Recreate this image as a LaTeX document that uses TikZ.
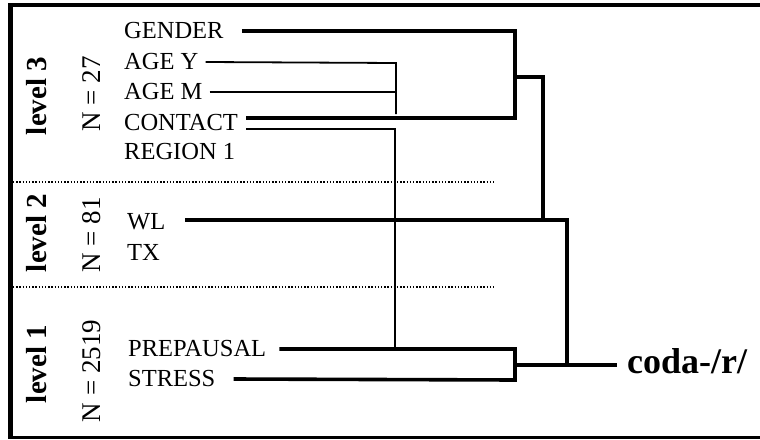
\documentclass[tikz,border=0pt]{standalone}
\usepackage{fontspec}
\setmainfont{Liberation Serif}
\usetikzlibrary{positioning, calc}

\begin{document}
\begin{tikzpicture}[x=1pt, y=-1pt,
    var/.style={anchor=west, inner sep=0pt, font=\fontsize{24.5}{26}\selectfont},
    lvl/.style={rotate=90, inner sep=0pt, font=\fontsize{29}{30}\selectfont\bfseries},
    cnt/.style={rotate=90, inner sep=0pt, font=\fontsize{27}{28}\selectfont},
    heavy/.style={line width=3.6pt},
    light/.style={line width=1.8pt},
    sep/.style={line width=1.7pt, dash pattern=on 1.3pt off 1.9pt}]
    \useasboundingbox (0,0) rectangle (760,439);

    % frame, open to the right
    \draw[line width=4.5pt] (762,5) -- (10.5,5) -- (10.5,439);
    \draw[line width=2.5pt] (10.5,437.5) -- (762,437.5);
    \foreach \y in {182, 287} {
        \draw[sep] (13,\y) -- (495,\y);
    };

    % levels
    \node[lvl] (lvl3) at (37,96) {level 3};
    \node[cnt] (n3) at (92,94) {N = 27};
    \node[lvl] (lvl2) at (37,233) {level 2};
    \node[cnt] (n2) at (92,235) {N = 81};
    \node[lvl] (lvl1) at (37,364) {level 1};
    \node[cnt] (n1) at (92,371) {N = 2519};

    % predictors
    \node[var] (gender) at (124,31) {GENDER};
    \node[var] (agey) at (124,62) {AGE Y};
    \node[var] (agem) at (124,92) {AGE M};
    \node[var] (contact) at (124,123) {CONTACT};
    \node[var] (region) at (124,152) {REGION 1};
    \node[var] (wl) at (127,222) {WL};
    \node[var] (tx) at (127,252) {TX};
    \node[var] (prepausal) at (128,349) {PREPAUSAL};
    \node[var] (stress) at (128,379) {STRESS};

    \coordinate (kin) at (515,77);
    \coordinate (kout) at (543,77);
    \coordinate (base) at (515,365);
    \coordinate (root) at (567,365);
    \node[anchor=west, inner xsep=10pt, inner ysep=0pt, font=\fontsize{36}{38}\selectfont\bfseries] (coda) at (617,361) {coda-/r/};

    \draw[heavy] ([xshift=18pt]gender.east) -- (515,31) -- (515,118) -- ($(contact.east)+(8,-5)$);
    \draw[heavy] (kin) -- (kout) -- (543,220);
    \draw[light] ([xshift=7pt]agey.east) -- (396,63) -- (396,114);
    \draw[light] ([xshift=7pt]agem.east) -- (396,92);
    \draw[light] ($(contact.east)+(8,6)$) -- (395,129) -- (395,349);
    \draw[heavy] ($(wl.east)+(20,-2)$) -- (567,220) -- (root);
    \draw[heavy] ([xshift=13pt]prepausal.east) -- (515,349) -- (515,380) -- ([xshift=18pt]stress.east);
    \draw[heavy] (base) -- (base -| coda.west);
\end{tikzpicture}
\end{document}
